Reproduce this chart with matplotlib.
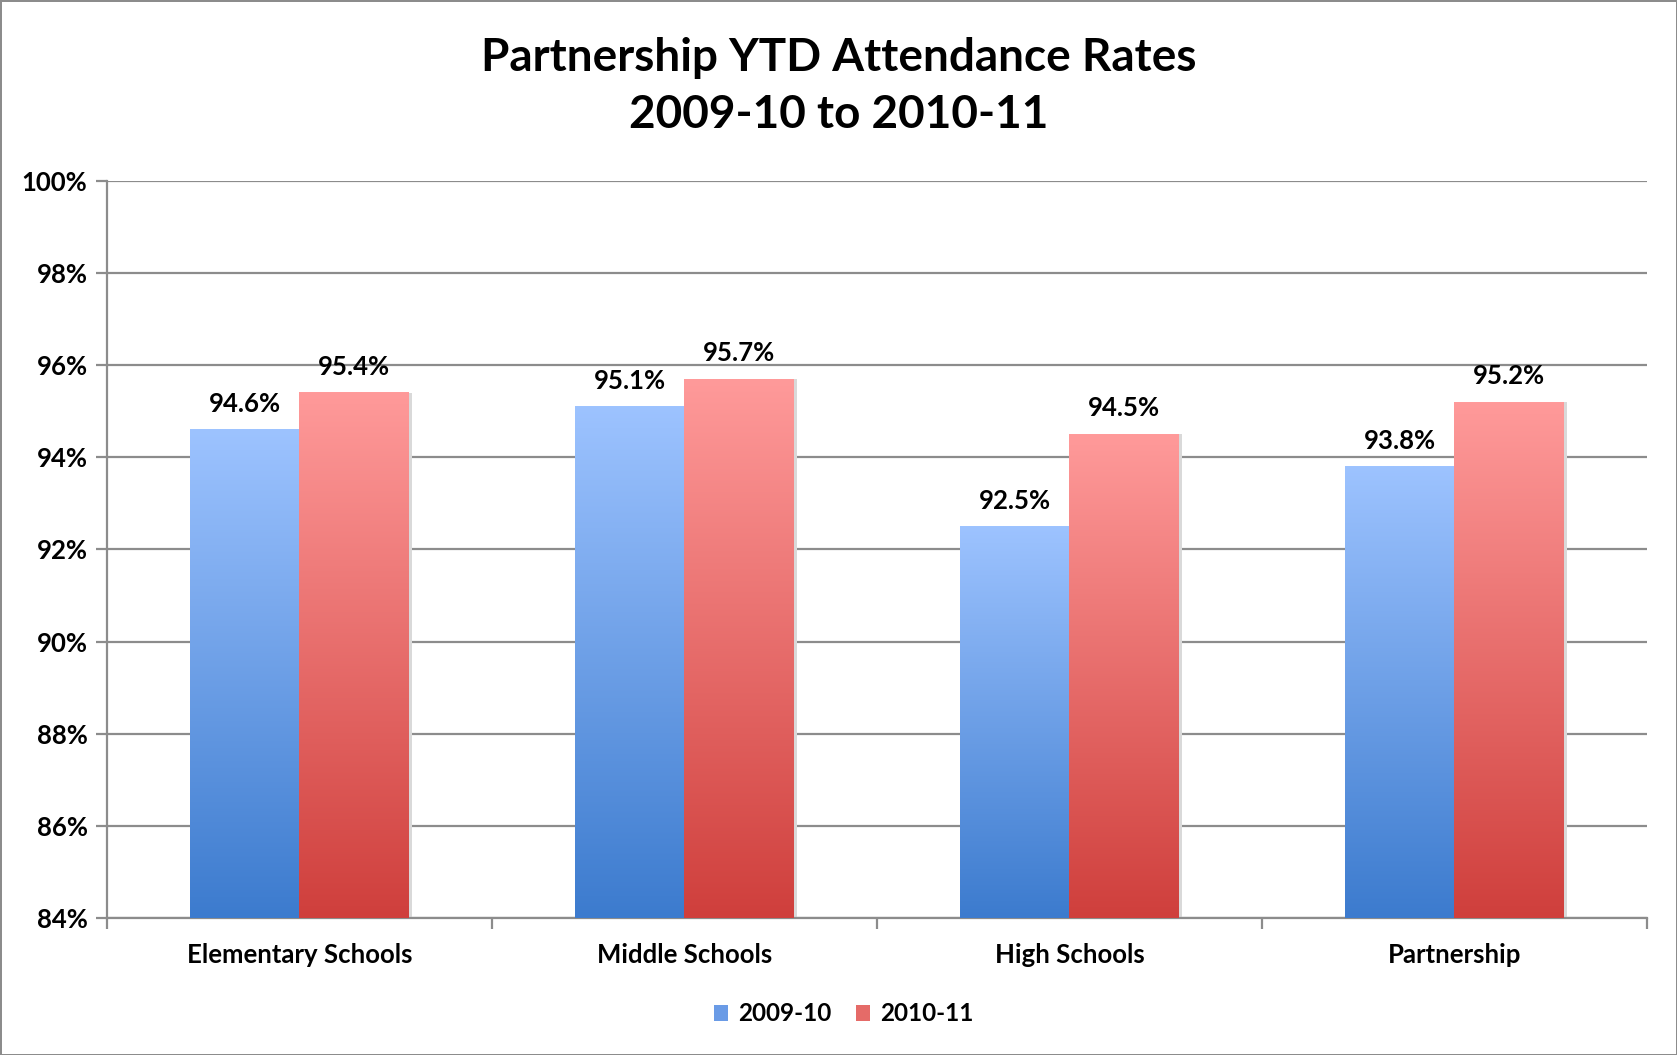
import numpy as np
import matplotlib.pyplot as plt
from matplotlib.colors import LinearSegmentedColormap
from matplotlib.patches import Patch

# Datos
categorias = ["Elementary Schools", "Middle Schools", "High Schools", "Partnership"]
serie_2009 = [94.6, 95.1, 92.5, 93.8]
serie_2010 = [95.4, 95.7, 94.5, 95.2]
series = ["2009-10", "2010-11"]
yticks = [84, 86, 88, 90, 92, 94, 96, 98, 100]

plt.rcParams['font.family'] = ['Lato', 'DejaVu Sans']

cmap_azul = LinearSegmentedColormap.from_list("azul", ["#3C7BCE", "#9DC3FF"])
cmap_rojo = LinearSegmentedColormap.from_list("rojo", ["#CF3F3C", "#FF9A9A"])

fig = plt.figure(figsize=(16.77, 10.55), dpi=100)
fig.patch.set_edgecolor('#8c8c8c')
fig.patch.set_linewidth(2)
ax = fig.add_axes([0.0638, 0.1299, 0.9182, 0.6985])

ancho = 0.285
x = np.arange(len(categorias))
grad = np.linspace(0, 1, 256).reshape(-1, 1)

def barra_gradiente(xc, h, cmap):
    x0, x1 = xc - ancho / 2, xc + ancho / 2
    # sombra suave
    ax.bar(xc + 0.008, h - 84, width=ancho, bottom=84, color='#d9d9d9', zorder=2, linewidth=0)
    ax.imshow(grad, cmap=cmap, extent=[x0, x1, 84, h], origin='lower',
              aspect='auto', zorder=3)

for i in range(len(categorias)):
    barra_gradiente(x[i] - ancho / 2, serie_2009[i], cmap_azul)
    barra_gradiente(x[i] + ancho / 2, serie_2010[i], cmap_rojo)
    ax.annotate(f"{serie_2009[i]:.1f}%", (x[i] - ancho / 2, serie_2009[i]),
                xytext=(0, 10), textcoords='offset points', ha='center', va='bottom',
                fontsize=18.5, fontweight='bold')
    ax.annotate(f"{serie_2010[i]:.1f}%", (x[i] + ancho / 2, serie_2010[i]),
                xytext=(0, 10), textcoords='offset points', ha='center', va='bottom',
                fontsize=18.5, fontweight='bold')

ax.set_xlim(-0.5, len(categorias) - 0.5)
ax.set_ylim(84, 100)
ax.set_yticks(yticks)
ax.set_yticklabels([f"{v}%" for v in yticks], fontsize=18.5, fontweight='bold')
ax.yaxis.grid(True, color='#8c8c8c', linewidth=1.6, zorder=0)
ax.set_axisbelow(True)

ax.set_xticks(x)
ax.set_xticklabels(categorias, fontsize=18.5, fontweight='bold')
ax.tick_params(axis='x', length=0, pad=18)
ax.set_xticks(np.arange(-0.5, len(categorias)), minor=True)
ax.tick_params(axis='x', which='minor', length=8, width=1.6, color='#8c8c8c')
ax.tick_params(axis='y', length=8, width=1.6, color='#8c8c8c', pad=6)

for lado in ['top', 'right']:
    ax.spines[lado].set_visible(False)
for lado in ['left', 'bottom']:
    ax.spines[lado].set_color('#8c8c8c')
    ax.spines[lado].set_linewidth(1.6)

fig.text(0.50, 0.965, "Partnership YTD Attendance Rates\n2009-10 to 2010-11",
         ha='center', va='top', fontsize=33, fontweight='bold', linespacing=1.45)

handles = [Patch(facecolor='#6A9BE6', label=series[0]),
           Patch(facecolor='#E56B68', label=series[1])]
fig.legend(handles=handles, loc='center', bbox_to_anchor=(0.503, 0.039), ncol=2,
           frameon=False, prop={'weight': 'bold', 'size': 17.5},
           handlelength=0.6, handleheight=0.6, handletextpad=0.4, columnspacing=1.0)

plt.savefig("out.png", dpi=100)
